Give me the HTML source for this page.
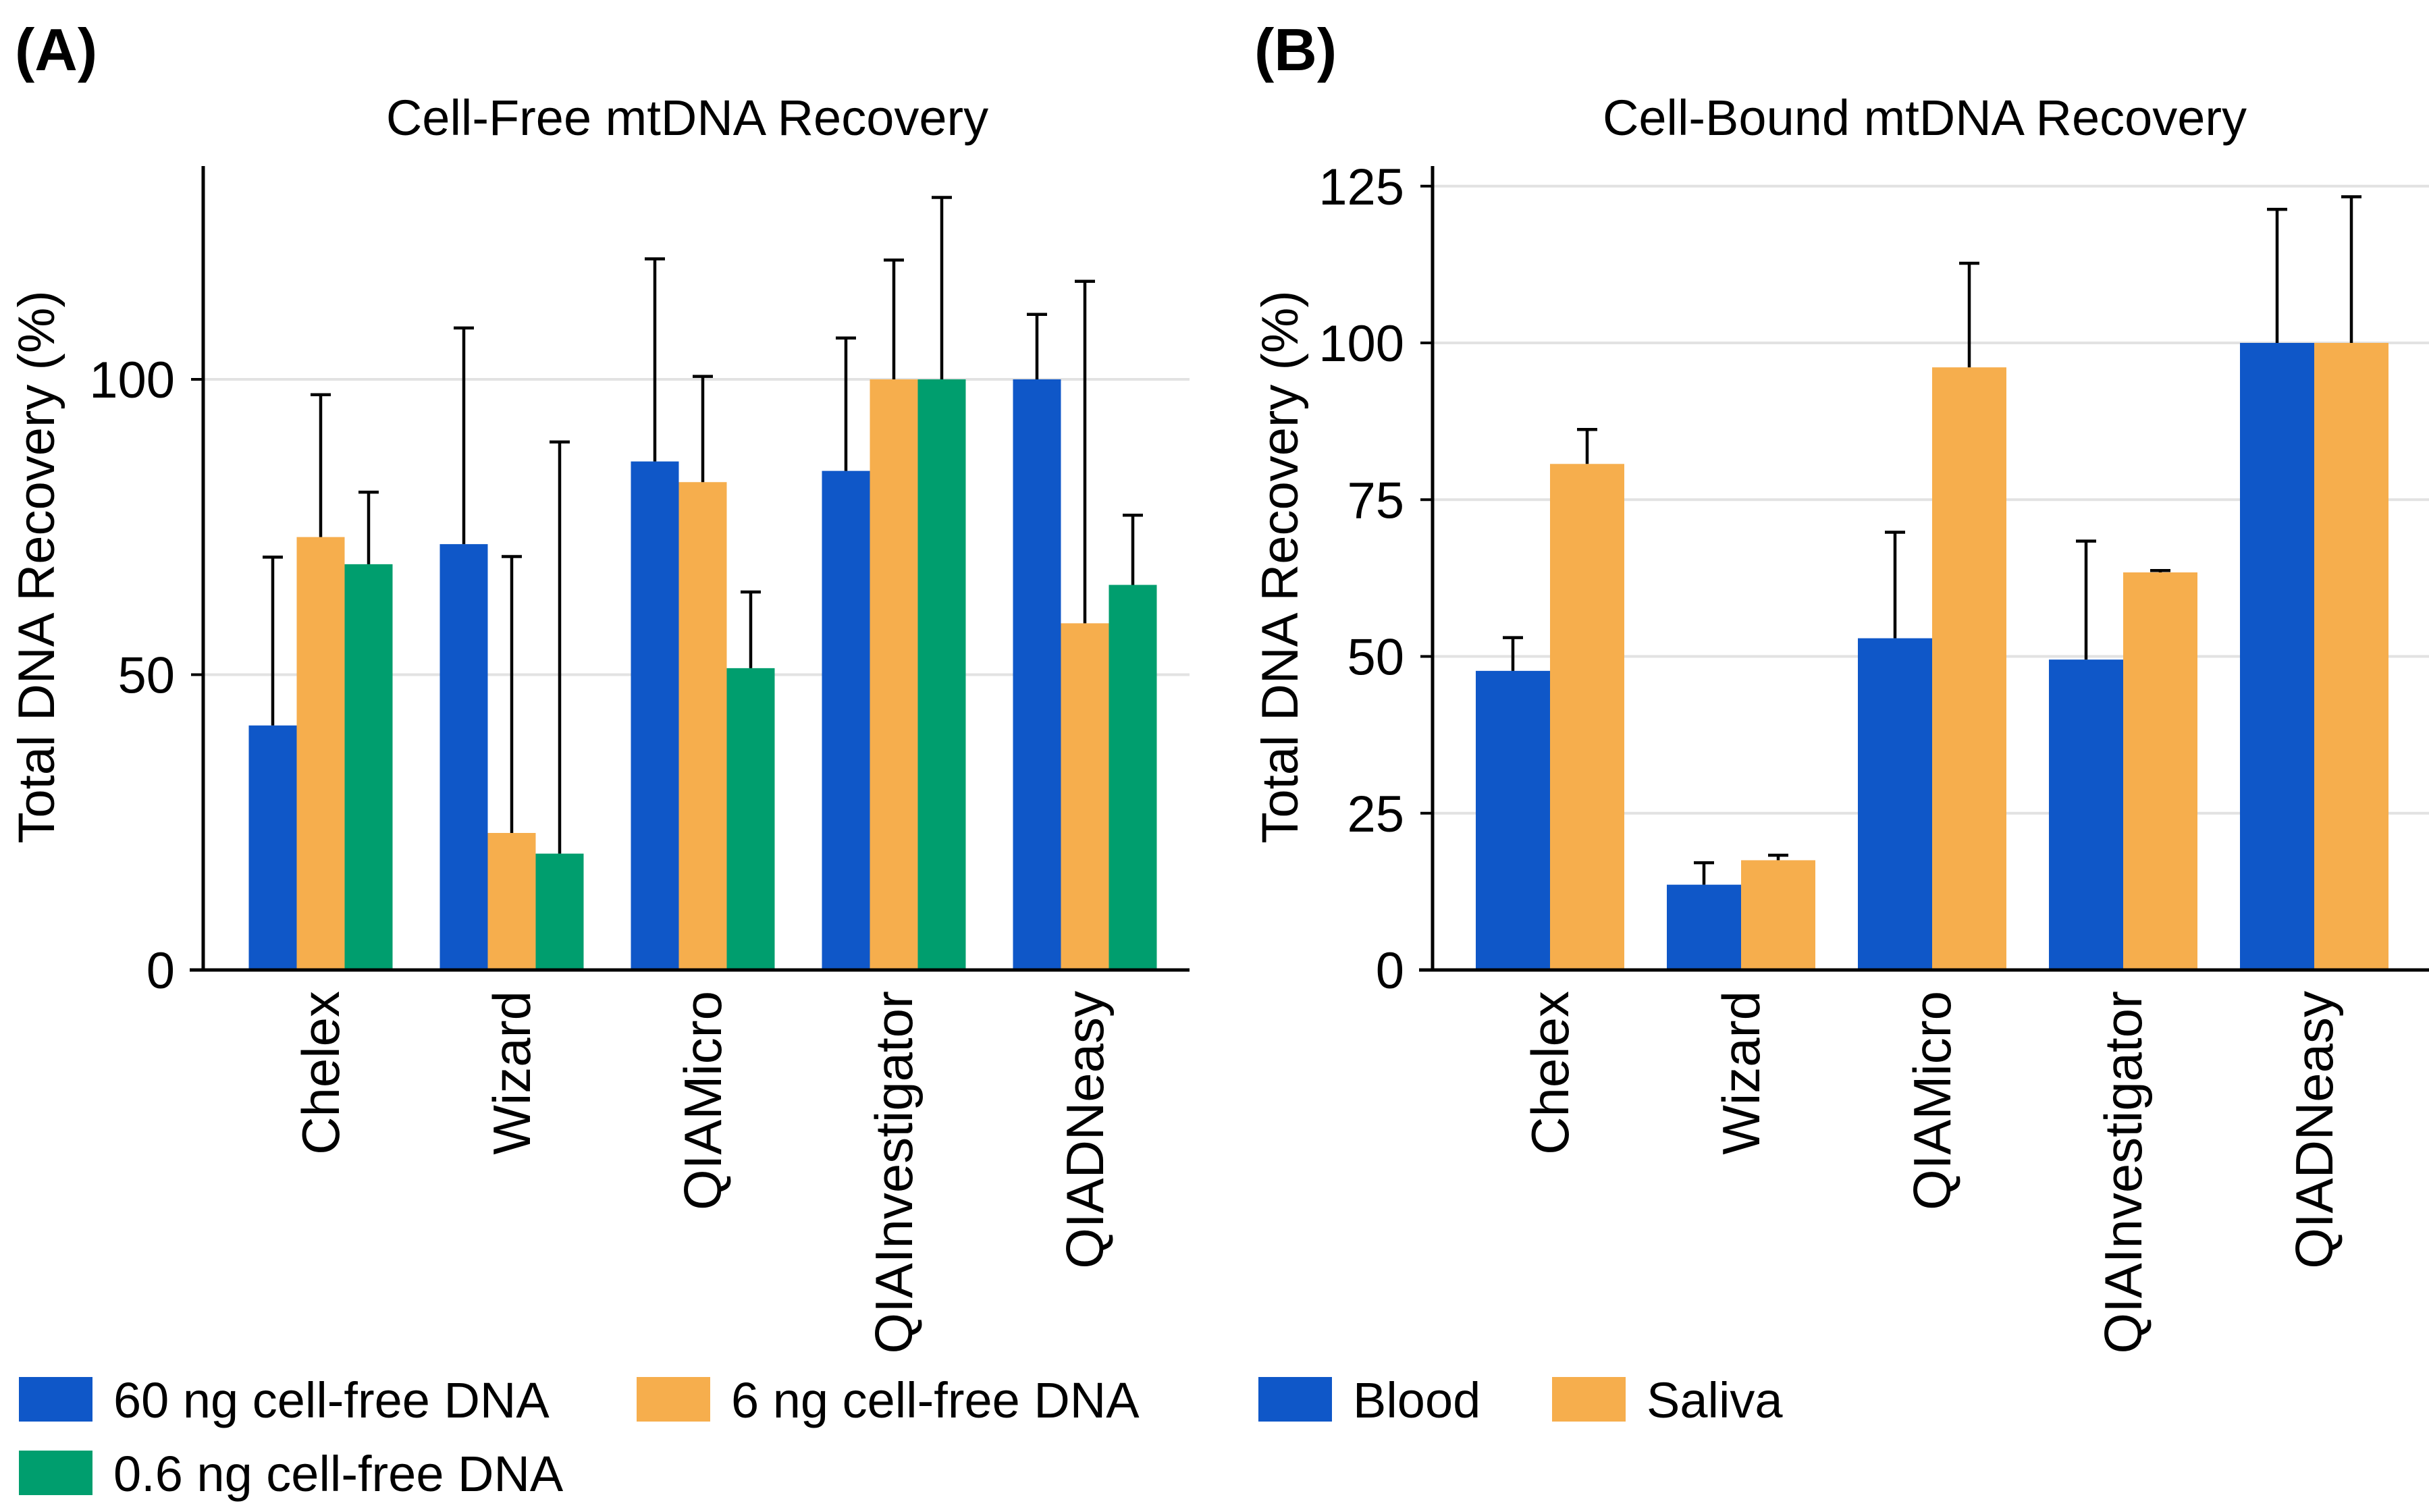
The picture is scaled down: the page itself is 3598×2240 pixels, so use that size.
<!DOCTYPE html>
<html><head><meta charset="utf-8">
<style>
html,body{margin:0;padding:0;background:#fff;}
svg{display:block;font-family:"Liberation Sans",sans-serif;}
</style></head>
<body>
<svg id="fig" width="3598" height="2240" viewBox="0 0 3598 2240" xmlns="http://www.w3.org/2000/svg">
<g id="pa"></g>
<g id="pb"></g>
</svg>
<script>
const categories = ["Chelex","Wizard","QIAMicro","QIAInvestigator","QIADNeasy"];
const seriesA = ["60 ng cell-free DNA","6 ng cell-free DNA","0.6 ng cell-free DNA"];
const a60 = [41.4, 72.1, 86.1, 84.5, 100];
const a6 = [73.3, 23.2, 82.6, 100, 58.7];
const a06 = [68.7, 19.7, 51.1, 100, 65.2];
const a60err = [69.9, 108.7, 120.4, 107, 111];
const a6err = [97.4, 70, 100.5, 120.2, 116.6];
const a06err = [80.9, 89.4, 64, 130.8, 77];
const ticksA = [0, 50, 100];
const seriesB = ["Blood","Saliva"];
const bBlood = [47.7, 13.6, 52.9, 49.5, 100];
const bSaliva = [80.7, 17.5, 96.1, 63.4, 100];
const bBloodErr = [53, 17.1, 69.8, 68.4, 121.3];
const bSalivaErr = [86.2, 18.3, 112.7, 63.7, 123.3];
const ticksB = [0, 25, 50, 75, 100, 125];

const NS = "http://www.w3.org/2000/svg";
const COLORS = ["#0f57c8", "#f6ae4d", "#009e6e"];
function mk(parent, tag, attrs, text) {
  const e = document.createElementNS(NS, tag);
  for (const k in attrs) e.setAttribute(k, attrs[k]);
  if (text !== undefined) e.textContent = text;
  parent.appendChild(e);
  return e;
}

function panel(g, cfg) {
  const y = v => cfg.y0 - v * cfg.ppu;
  const xc = i => cfg.c0 + i * cfg.step;
  cfg.ticks.forEach(t => {
    if (t === 0) return;
    const l = mk(g, "line", {x1: cfg.ax, x2: cfg.axEnd, y1: y(t), y2: y(t), stroke: "#e2e2e2", "stroke-width": 4});
    
    
  });
  const n = cfg.series.length;
  cfg.series.forEach((vals, s) => {
    vals.forEach((v, i) => {
      const x = xc(i) - n * cfg.bw / 2 + s * cfg.bw;
      const r = mk(g, "rect", {x: x, y: y(v), width: cfg.bw, height: y(0) - y(v), fill: COLORS[s]});
      
      
      const e = cfg.errs[s][i];
      const cx = x + cfg.bw / 2;
      const el = mk(g, "path", {d: `M${cx},${y(v)}V${y(e)}M${cx-15},${y(e)}H${cx+15}`, stroke: "#000", "stroke-width": 4.5, fill: "none"});
      
      
    });
  });
  const ya = mk(g, "line", {x1: cfg.ax, x2: cfg.ax, y1: cfg.axTop, y2: cfg.y0 + 2, stroke: "#000", "stroke-width": 5});
  
  
  const xa = mk(g, "line", {x1: cfg.ax - 20, x2: cfg.axEnd, y1: cfg.y0, y2: cfg.y0, stroke: "#000", "stroke-width": 5});
  
  
  cfg.ticks.forEach(t => {
    const tk = mk(g, "line", {x1: cfg.ax - 18, x2: cfg.ax, y1: y(t), y2: y(t), stroke: "#000", "stroke-width": 4});
    
    
    const tl = mk(g, "text", {x: cfg.ax - 42, y: y(t) + 27, "text-anchor": "end", "font-size": 76}, String(t));
    
    
  });
  categories.forEach((c, i) => {
    const tx = xc(i) + 27;
    const t = mk(g, "text", {x: tx, y: 1468, transform: `rotate(-90 ${tx} 1468)`, "text-anchor": "end", "font-size": 78}, c);
    
    
  });
  const yt = mk(g, "text", {x: cfg.ytx, y: 840, transform: `rotate(-90 ${cfg.ytx} 840)`, "text-anchor": "middle", "font-size": 76}, "Total DNA Recovery (%)");
  
  
  const ti = mk(g, "text", {x: cfg.titleX, y: 200, "text-anchor": "middle", "font-size": 74}, cfg.title);
  
  
  const pl = mk(g, "text", {x: cfg.plx, y: 104, "font-size": 88, "font-weight": "bold"}, cfg.label);
  
  
  cfg.legend.forEach((L, k) => {
    const sw = mk(g, "rect", {x: L.x, y: L.y, width: 109, height: 66, fill: COLORS[k]});
    
    
    const lt = mk(g, "text", {x: L.x + 140, y: L.y + 60, "font-size": 74}, cfg.names[k]);
    
    
  });
}

panel(document.getElementById("pa"), {
  y0: 1437, ppu: 8.75, ax: 301, axEnd: 1762, axTop: 246,
  c0: 475, step: 283, bw: 71,
  series: [a60, a6, a06], errs: [a60err, a6err, a06err], ticks: ticksA,
  ytx: 80, titleX: 1018, title: "Cell-Free mtDNA Recovery", label: "(A)", plx: 22,
  names: seriesA,
  legend: [{x: 28, y: 2040}, {x: 943, y: 2040}, {x: 28, y: 2149}]
});
panel(document.getElementById("pb"), {
  y0: 1437, ppu: 9.29, ax: 2122, axEnd: 3598, axTop: 246,
  c0: 2296, step: 283, bw: 110,
  series: [bBlood, bSaliva], errs: [bBloodErr, bSalivaErr], ticks: ticksB,
  ytx: 1922, titleX: 2851, title: "Cell-Bound mtDNA Recovery", label: "(B)", plx: 1858,
  names: seriesB,
  legend: [{x: 1864, y: 2040}, {x: 2299, y: 2040}]
});
</script>
</body></html>
